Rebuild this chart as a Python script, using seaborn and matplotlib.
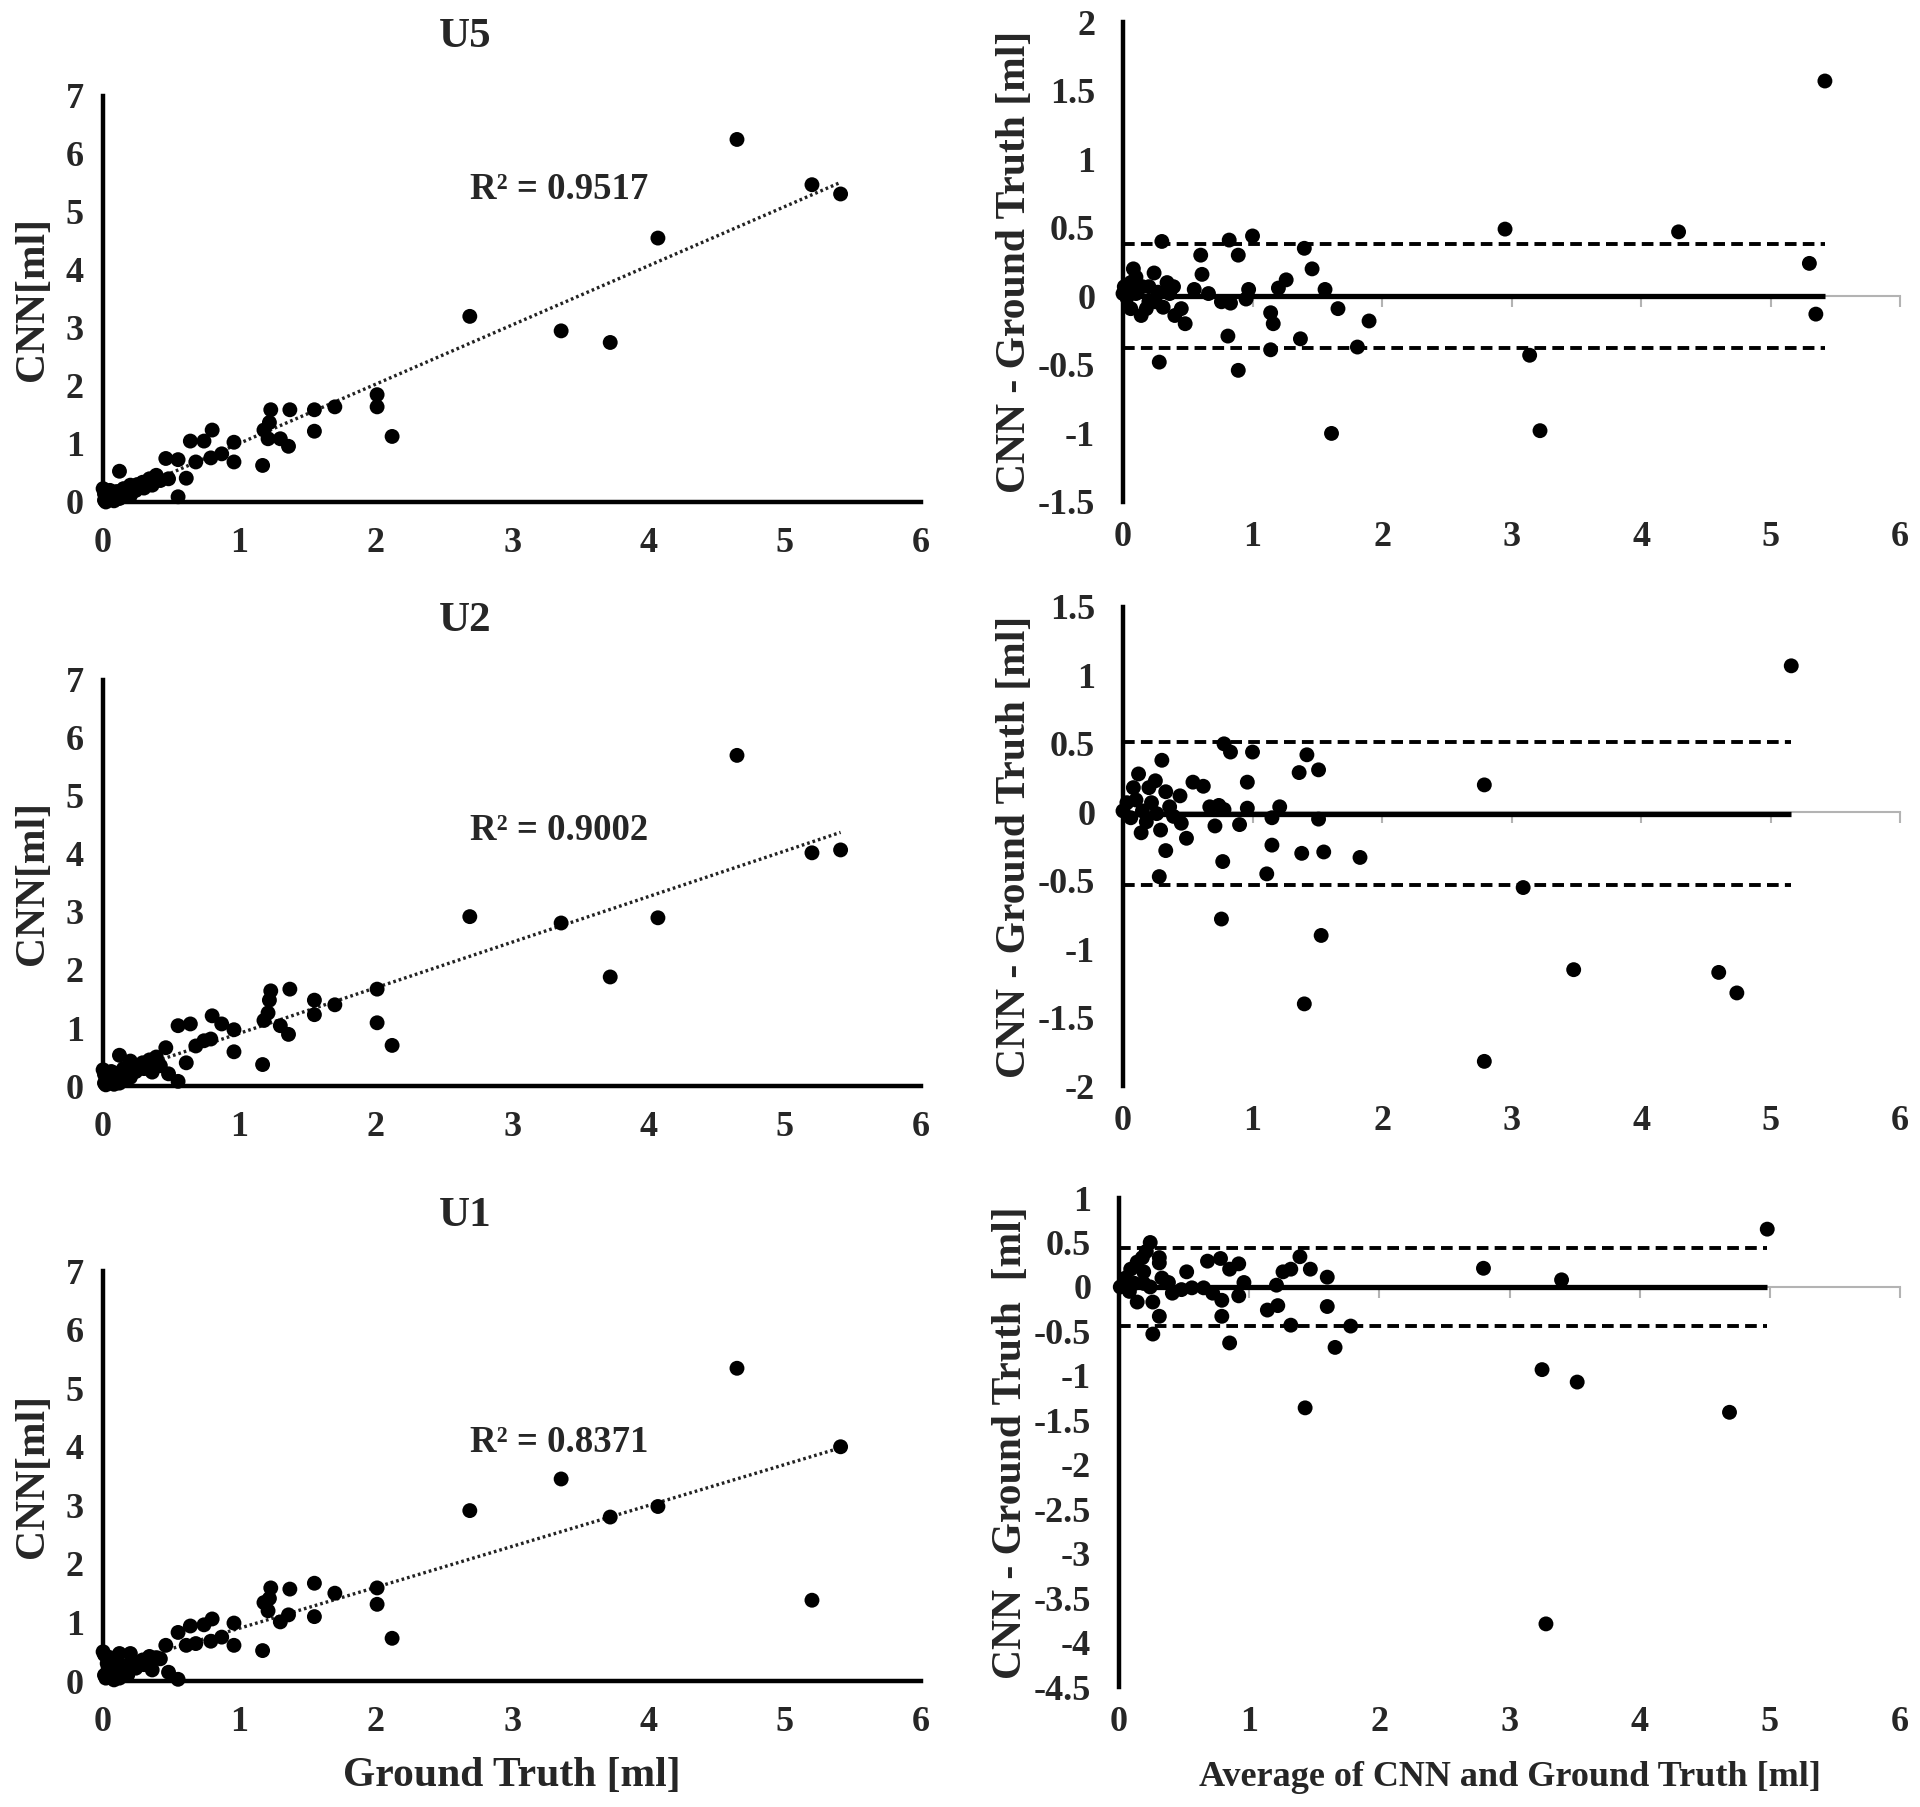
import numpy as np
import pandas as pd
import matplotlib
matplotlib.use("Agg")
import matplotlib.pyplot as plt
import seaborn as sns
from matplotlib.ticker import FuncFormatter

# ---------------- data ----------------
ground_truth = [4.65, 5.20, 5.41, 4.07, 2.69, 3.36, 3.72, 2.01, 2.01, 2.12,
                1.70, 1.55, 1.55, 1.37, 1.23, 1.22, 1.18, 1.21, 1.30, 1.36,
                1.17, 0.96, 0.96, 0.80, 0.74, 0.64, 0.87, 0.79, 0.68, 0.55,
                0.46, 0.61, 0.55, 0.48, 0.39, 0.34, 0.29, 0.42, 0.36, 0.12,
                0.20, 0.24, 0.15, 0.07, 0.01, 0.01, 0.05, 0.12, 0.20, 0.00,
                0.03, 0.08, 0.10, 0.18, 0.02, 0.25, 0.05, 0.14, 0.30, 0.06]
cnn_u5 = [6.25, 5.47, 5.31, 4.55, 3.20, 2.95, 2.75, 1.85, 1.64, 1.13,
          1.64, 1.59, 1.22, 1.59, 1.59, 1.37, 1.24, 1.09, 1.09, 0.96,
          0.63, 1.03, 0.69, 1.24, 1.05, 1.05, 0.83, 0.76, 0.69, 0.73,
          0.75, 0.41, 0.09, 0.40, 0.46, 0.40, 0.34, 0.37, 0.29, 0.53,
          0.29, 0.20, 0.23, 0.14, 0.14, 0.03, 0.06, 0.06, 0.11, 0.23,
          0.10, 0.02, 0.18, 0.16, 0.00, 0.30, 0.20, 0.09, 0.24, 0.08]
cnn_u2 = [5.70, 4.02, 4.07, 2.90, 2.92, 2.81, 1.88, 1.67, 1.09, 0.70,
          1.40, 1.48, 1.23, 1.67, 1.64, 1.48, 1.13, 1.26, 1.04, 0.89,
          0.37, 0.97, 0.59, 1.21, 0.78, 1.07, 1.07, 0.81, 0.69, 1.04,
          0.66, 0.40, 0.08, 0.21, 0.50, 0.45, 0.40, 0.35, 0.24, 0.53,
          0.43, 0.25, 0.30, 0.12, 0.20, 0.05, 0.10, 0.05, 0.15, 0.28,
          0.15, 0.03, 0.22, 0.20, 0.02, 0.33, 0.18, 0.12, 0.30, 0.25]
cnn_u1 = [5.34, 1.38, 4.00, 2.98, 2.91, 3.45, 2.80, 1.59, 1.31, 0.73,
          1.50, 1.67, 1.10, 1.57, 1.59, 1.41, 1.34, 1.20, 1.01, 1.13,
          0.52, 0.99, 0.61, 1.06, 0.96, 0.94, 0.75, 0.68, 0.64, 0.83,
          0.61, 0.61, 0.03, 0.15, 0.40, 0.42, 0.36, 0.38, 0.19, 0.47,
          0.47, 0.22, 0.25, 0.35, 0.45, 0.10, 0.20, 0.05, 0.30, 0.50,
          0.30, 0.02, 0.15, 0.10, 0.05, 0.30, 0.40, 0.20, 0.28, 0.12]

r2_labels = ["R² = 0.9517", "R² = 0.9002", "R² = 0.8371"]
model_names = ["U5", "U2", "U1"]

ba_avg_u5 = [5.42, 5.30, 5.35, 2.95, 4.29, 3.14, 3.22, 1.61, 1.90, 1.81,
             1.66, 1.56, 1.40, 1.46, 1.26, 1.20, 1.37, 1.14, 1.16, 1.14,
             1.00, 0.97, 0.95, 0.89, 0.82, 0.89, 0.81, 0.83, 0.76, 0.66,
             0.60, 0.61, 0.55, 0.48, 0.45, 0.39, 0.40, 0.30, 0.28, 0.31,
             0.24, 0.27, 0.20, 0.14, 0.08, 0.06, 0.03, 0.00, 0.10, 0.15,
             0.20, 0.34, 0.36, 0.06, 0.18, 0.25, 0.01, 0.10]
ba_diff_u5 = [1.57, 0.24, -0.13, 0.49, 0.47, -0.43, -0.98, -1.00, -0.18, -0.37,
              -0.09, 0.05, 0.35, 0.20, 0.12, 0.06, -0.31, -0.12, -0.20, -0.39,
              0.44, 0.05, -0.02, 0.30, 0.41, -0.54, -0.29, -0.05, -0.04, 0.02,
              0.30, 0.16, 0.05, -0.20, -0.09, 0.07, -0.14, 0.40, -0.48, -0.08,
              0.17, 0.03, -0.04, -0.14, 0.20, 0.10, -0.01, 0.02, 0.02, 0.07,
              0.07, 0.10, 0.02, -0.09, -0.09, -0.04, 0.07, 0.14]

ba_avg_u2 = [5.16, 2.79, 2.79, 3.09, 3.48, 4.60, 4.74, 1.40, 1.53, 1.83,
             1.55, 1.38, 1.51, 1.51, 1.42, 1.36, 1.21, 1.15, 1.15, 1.11,
             1.00, 0.96, 0.96, 0.90, 0.83, 0.78, 0.78, 0.74, 0.67, 0.77,
             0.76, 0.71, 0.62, 0.54, 0.49, 0.45, 0.44, 0.33, 0.30, 0.33,
             0.28, 0.29, 0.25, 0.20, 0.12, 0.14, 0.08, 0.03, 0.00, 0.06,
             0.15, 0.22, 0.36, 0.18, 0.10, 0.26, 0.39]
ba_diff_u2 = [1.07, 0.20, -1.82, -0.55, -1.15, -1.17, -1.32, -1.40, -0.90, -0.33,
              -0.29, -0.30, -0.05, 0.31, 0.42, 0.29, 0.04, -0.04, -0.24, -0.45,
              0.44, 0.22, 0.03, -0.09, 0.44, 0.50, 0.02, 0.05, 0.04, -0.36,
              -0.78, -0.10, 0.19, 0.22, -0.19, -0.08, 0.12, 0.15, 0.38, -0.28,
              -0.47, -0.13, 0.23, 0.18, 0.28, -0.15, 0.18, 0.07, 0.01, -0.04,
              0.01, 0.07, 0.04, -0.07, 0.09, -0.01, -0.03]

ba_avg_u1 = [4.98, 2.80, 3.40, 3.25, 3.52, 4.69, 3.28, 1.43, 1.66, 1.78,
             1.60, 1.60, 1.47, 1.39, 1.32, 1.26, 1.21, 1.22, 1.14, 1.32,
             0.96, 0.92, 0.92, 0.85, 0.78, 0.68, 0.85, 0.79, 0.79, 0.72,
             0.65, 0.56, 0.52, 0.48, 0.41, 0.38, 0.33, 0.31, 0.31, 0.31,
             0.26, 0.26, 0.24, 0.21, 0.18, 0.14, 0.09, 0.19, 0.14, 0.06,
             0.01, 0.12, 0.19, 0.24, 0.05, 0.08]
ba_diff_u1 = [0.65, 0.21, 0.08, -0.93, -1.07, -1.41, -3.79, -1.36, -0.68, -0.44,
              -0.22, 0.11, 0.20, 0.34, 0.20, 0.17, 0.02, -0.21, -0.26, -0.43,
              0.05, 0.26, -0.10, 0.20, 0.32, 0.29, -0.63, -0.33, -0.15, -0.07,
              -0.01, -0.01, 0.17, -0.03, -0.07, 0.05, 0.10, -0.33, 0.27, 0.33,
              -0.53, -0.17, 0.50, 0.40, 0.33, 0.28, 0.20, 0.17, -0.17, 0.06,
              0.00, 0.04, 0.04, 0.00, 0.10, -0.05]

ba_bias = [0.0, -0.01, 0.0]
ba_upper = [0.38, 0.51, 0.44]
ba_lower = [-0.375, -0.53, -0.44]
ba_ylims = [(-1.5, 2.0), (-2.0, 1.5), (-4.5, 1.0)]

# ---------------- style ----------------
sns.set_theme(style="white")
plt.rcParams["font.family"] = ["Liberation Serif", "DejaVu Serif"]
plt.rcParams["font.weight"] = "bold"
plt.rcParams["axes.labelweight"] = "bold"
plt.rcParams["axes.unicode_minus"] = False

TICK_FS = 26
LABEL_FS = 30
GRAY = "#b3b3b3"
DOT = 115
fmt = FuncFormatter(lambda v, p: f"{v:g}")

fig = plt.figure(figsize=(19.2, 18.07), dpi=100)

left_rects = [(0.0537, 0.7222, 0.4260, 0.2247),
              (0.0537, 0.3990, 0.4260, 0.2247),
              (0.0537, 0.0697, 0.4260, 0.2269)]
right_rects = [(0.5849, 0.7222, 0.4047, 0.2656),
               (0.5849, 0.3990, 0.4047, 0.2651),
               (0.5828, 0.0664, 0.4068, 0.2706)]
title_y = [0.9795, 0.6563, 0.3271]
r2_y = [5.38, 4.40, 4.08]

cnn_all = [cnn_u5, cnn_u2, cnn_u1]
ba_avg_all = [ba_avg_u5, ba_avg_u2, ba_avg_u1]
ba_diff_all = [ba_diff_u5, ba_diff_u2, ba_diff_u1]

for i in range(3):
    # ---------- correlation panel ----------
    ax = fig.add_axes(left_rects[i])
    df = pd.DataFrame({"gt": ground_truth, "cnn": cnn_all[i]})
    sns.regplot(data=df, x="gt", y="cnn", ax=ax, scatter=False, ci=None,
                truncate=True,
                line_kws=dict(color="#222222", lw=2.4, ls=(0, (0.8, 0.9)), zorder=2))
    sns.scatterplot(data=df, x="gt", y="cnn", ax=ax, color="black", s=DOT,
                    edgecolor="none", linewidth=0, clip_on=False, zorder=4)
    ax.set_xlim(0, 6)
    ax.set_ylim(0, 7)
    ax.set_xticks(range(7))
    ax.set_yticks(range(8))
    ax.xaxis.set_major_formatter(fmt)
    ax.yaxis.set_major_formatter(fmt)
    for s in ["top", "right"]:
        ax.spines[s].set_visible(False)
    for s in ["left", "bottom"]:
        ax.spines[s].set_color("black")
        ax.spines[s].set_linewidth(3.2)
    ax.tick_params(axis="both", length=0, labelsize=TICK_FS)
    ax.tick_params(axis="x", pad=18)
    ax.tick_params(axis="y", pad=14)
    ax.set_ylabel("CNN[ml]", fontsize=LABEL_FS, fontweight="bold")
    ax.yaxis.set_label_coords(-0.062, 0.5)
    ax.set_xlabel("")
    if i == 2:
        ax.text(0.5, -0.232, "Ground Truth [ml]", transform=ax.transAxes,
                fontsize=30, fontweight="bold", ha="center", va="center")
    ax.text(2.69, r2_y[i], r2_labels[i], fontsize=26.5, fontweight="bold",
            ha="left", va="center")
    fig.text(0.2422, title_y[i], model_names[i], fontsize=31, fontweight="bold",
             ha="center", va="center")

    # ---------- Bland-Altman panel ----------
    bx = fig.add_axes(right_rects[i])
    dfb = pd.DataFrame({"avg": ba_avg_all[i], "diff": ba_diff_all[i]})
    end = max(ba_avg_all[i])
    bx.hlines(ba_bias[i], 0, end, color="black", lw=3.8, zorder=3)
    bx.hlines([ba_upper[i], ba_lower[i]], 0, end, color="black", lw=2.8,
              linestyles=[(0, (3.0, 1.6))], zorder=3)
    sns.scatterplot(data=dfb, x="avg", y="diff", ax=bx, color="black", s=DOT,
                    edgecolor="none", linewidth=0, clip_on=False, zorder=4)
    lo, hi = ba_ylims[i]
    bx.set_xlim(0, 6)
    bx.set_ylim(lo, hi)
    bx.set_yticks(np.arange(lo, hi + 0.01, 0.5))
    bx.yaxis.set_major_formatter(fmt)
    bx.set_xticks(range(7))
    for s in ["top", "right"]:
        bx.spines[s].set_visible(False)
    bx.spines["left"].set_color("black")
    bx.spines["left"].set_linewidth(3.2)
    bx.spines["bottom"].set_position(("data", 0))
    bx.spines["bottom"].set_color(GRAY)
    bx.spines["bottom"].set_linewidth(1.5)
    bx.tick_params(axis="x", direction="out", length=8, width=1.5, color=GRAY,
                   labelbottom=False, bottom=True)
    bx.tick_params(axis="y", length=0, labelsize=TICK_FS, pad=20)
    sec = bx.secondary_xaxis(0)
    sec.set_xticks(range(7))
    sec.xaxis.set_major_formatter(fmt)
    sec.spines["bottom"].set_visible(False)
    sec.tick_params(axis="x", length=0, labelsize=TICK_FS, pad=14)
    ylab = "CNN - Ground Truth  [ml]" if i == 2 else "CNN - Ground Truth [ml]"
    bx.set_ylabel(ylab, fontsize=LABEL_FS, fontweight="bold")
    bx.yaxis.set_label_coords(-0.114, 0.5)
    bx.set_xlabel("")
    if i == 2:
        bx.text(0.5, -0.186, "Average of CNN and Ground Truth [ml]",
                transform=bx.transAxes, fontsize=26, fontweight="bold",
                ha="center", va="center")

fig.savefig("out.png", dpi=100, facecolor="white")
